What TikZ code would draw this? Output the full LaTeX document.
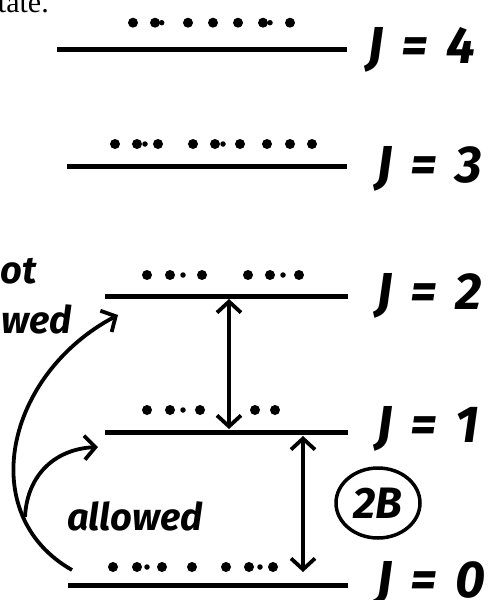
\documentclass[tikz,border=0pt]{standalone}
\usepackage{fontspec}
\setmainfont{Liberation Serif}
\newfontfamily\hand{Fira Sans}
\usetikzlibrary{arrows.meta,shapes.geometric}
\tikzset{
  level/.style={line width=5pt},
  trans/.style={line width=3.8pt,{Straight Barb[length=11pt,width=24pt]}-{Straight Barb[length=11pt,width=24pt]}},
  curvearr/.style={line width=3.8pt,-{Straight Barb[length=11pt,width=24pt]}},
  jlabel/.style={anchor=west,inner sep=0pt,font=\hand\bfseries\itshape\fontsize{52}{52}\selectfont},
  note/.style={inner sep=0pt,font=\hand\bfseries\itshape\fontsize{38}{38}\selectfont},
  bigdot/.style={fill,circle,inner sep=0pt,minimum size=10pt},
  smalldot/.style={fill,circle,inner sep=0pt,minimum size=5.5pt},
}
\newcommand{\dotrow}[3]{% y, big list, small list
  \foreach \xx in {#2} {\node[bigdot] at (\xx,#1) {};}
  \foreach \xx in {#3} {\node[smalldot] at (\xx,#1) {};}
}
\newcommand{\jeq}[1]{J\hspace{0.35em}=\hspace{0.35em}#1}
\begin{document}
\begin{tikzpicture}[x=1pt,y=-1pt]
\useasboundingbox (0,0) rectangle (488,600);
\clip (0,0) rectangle (488,600);
% cut-off text at top
\node[anchor=base east,inner sep=0pt,font=\fontsize{30}{30}\selectfont] (st) at (49,12) {state.};
% levels
\coordinate (l4a) at (57,49);  \coordinate (l4b) at (347,49);
\coordinate (l3a) at (67,166); \coordinate (l3b) at (347,166);
\coordinate (l2a) at (105,296); \coordinate (l2b) at (348,296);
\coordinate (l1a) at (105,432); \coordinate (l1b) at (348,432);
\coordinate (l0a) at (68,585); \coordinate (l0b) at (348,585);
\draw[level] (l4a) -- (l4b);
\draw[level] (l3a) -- (l3b);
\draw[level] (l2a) -- (l2b);
\draw[level] (l1a) -- (l1b);
\draw[level] (l0a) -- (l0b);
% dots
\dotrow{22.7}{133,155,188,213,238,263,290}{161.7,270}
\dotrow{144}{115,137,158,193,215,240,267,290,312}{145,223}
\dotrow{275}{147,170,202,248,270,299}{183,283}
\dotrow{410}{147,170,200,255,275}{183}
\dotrow{567}{113,137,162,192,226,249,273}{147,260}
% labels
\node[jlabel] (j4) at (367,50) {\jeq{4}};
\node[jlabel] (j3) at (376,169) {\jeq{3}};
\node[jlabel] (j2) at (376,296) {\jeq{2}};
\node[jlabel] (j1) at (376,429) {\jeq{1}};
\node[jlabel] (j0) at (376,584) {\jeq{0}};
% transitions
\coordinate (a2t) at (229,299); \coordinate (a2b) at (229,429);
\draw[trans] (a2t) -- (a2b);
\coordinate (a1t) at (303,436); \coordinate (a1b) at (303,572);
\draw[trans] (a1t) -- (a1b);
\node[draw,ellipse,line width=3.5pt,minimum width=84pt,minimum height=70pt,inner sep=0pt,
      font=\hand\bfseries\itshape\fontsize{44}{44}\selectfont] (twoB) at (378,503) {2B};
% notes
\node[note,anchor=base west] (allw) at (67,530) {allowed};
\node[note,anchor=base east] (nt) at (37,283) {not};
\node[note,anchor=base east] (nal) at (72,333) {allowed};
% curved arrows
\coordinate (c0) at (72,570); \coordinate (c1) at (118,315);
\draw[curvearr] (c0) .. controls (-25,515) and (5,375) .. (c1);
\coordinate (s0) at (25,517); \coordinate (s1) at (98,447);
\draw[curvearr] (s0) .. controls (27,475) and (55,449) .. (s1);
\end{tikzpicture}
\end{document}
